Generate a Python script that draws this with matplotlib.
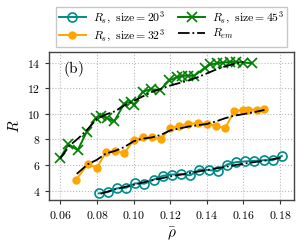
import numpy as np
import matplotlib
matplotlib.use("Agg")
import matplotlib.pyplot as plt
from matplotlib.ticker import FuncFormatter

plt.rcParams["mathtext.fontset"] = "cm"
plt.rcParams["font.family"] = ["DejaVu Serif"]

# R_s, size = 20^3
x20 = [0.081, 0.086, 0.091, 0.096, 0.101, 0.106, 0.111, 0.116, 0.121, 0.126, 0.131,
       0.136, 0.141, 0.146, 0.151, 0.156, 0.161, 0.166, 0.171, 0.176, 0.181]
r20 = [3.78, 3.88, 4.17, 4.22, 4.56, 4.54, 4.86, 5.15, 5.25, 5.28, 5.19,
       5.64, 5.60, 5.52, 6.03, 6.22, 6.28, 6.32, 6.37, 6.37, 6.70]

# R_s, size = 32^3
x32 = [0.0685, 0.075, 0.080, 0.085, 0.090, 0.095, 0.100, 0.105, 0.110, 0.115, 0.120,
       0.125, 0.130, 0.135, 0.140, 0.145, 0.150, 0.155, 0.160, 0.1625, 0.1675, 0.1715]
r32 = [4.82, 6.05, 5.78, 7.00, 7.10, 6.90, 7.94, 8.15, 8.18, 8.03, 8.86,
       9.06, 9.22, 9.25, 9.22, 9.06, 8.86, 10.22, 10.30, 10.33, 10.30, 10.36]

# R_s, size = 45^3
x45 = [0.060, 0.0645, 0.0695, 0.0745, 0.0795, 0.0825, 0.0855, 0.0895, 0.095, 0.0985,
       0.1005, 0.105, 0.1095, 0.1145, 0.1195, 0.1235, 0.1265, 0.1295, 0.133, 0.139,
       0.142, 0.1455, 0.149, 0.1525, 0.156, 0.160, 0.1645]
r45 = [6.55, 7.62, 7.15, 8.60, 9.68, 9.85, 9.65, 9.42, 10.80, 10.95,
       10.72, 11.72, 11.92, 11.85, 12.60, 12.85, 12.95, 12.98, 12.95, 13.60,
       13.85, 13.95, 14.00, 14.05, 14.05, 14.00, 13.95]

# R_em curves
xem20 = [0.082, 0.09, 0.10, 0.11, 0.12, 0.13, 0.14, 0.15, 0.16, 0.17, 0.181]
rem20 = [3.75, 4.10, 4.45, 4.80, 5.10, 5.35, 5.60, 5.85, 6.10, 6.30, 6.58]

xem32 = [0.069, 0.075, 0.08, 0.085, 0.09, 0.095, 0.10, 0.105, 0.11, 0.115, 0.12,
         0.125, 0.13, 0.135, 0.14, 0.145, 0.15, 0.155, 0.16, 0.165, 0.1715]
rem32 = [5.30, 6.05, 6.40, 6.90, 7.10, 7.40, 7.85, 8.05, 8.15, 8.35, 8.70,
         8.85, 9.00, 9.10, 9.20, 9.40, 9.65, 9.85, 9.97, 10.10, 10.30]

xem45 = [0.06, 0.065, 0.07, 0.075, 0.08, 0.085, 0.09, 0.095, 0.10, 0.105, 0.11,
         0.115, 0.12, 0.125, 0.13, 0.135, 0.14, 0.145, 0.15, 0.155, 0.16]
rem45 = [6.50, 7.50, 8.10, 8.80, 9.60, 9.95, 10.20, 10.65, 11.00, 11.35, 11.70,
         11.95, 12.20, 12.40, 12.60, 12.85, 13.15, 13.45, 13.70, 13.90, 14.05]

fig = plt.figure(figsize=(3.04, 2.48), dpi=100)
ax = fig.add_axes([0.162, 0.194, 0.805, 0.595])

ax.plot(x20, r20, color="#008B8B", marker="o", mfc="none", ms=6.5, mew=1.2, lw=1.4,
        label=r"$R_s,\ \mathrm{size}{=}20^3$", zorder=3)
ax.plot(x32, r32, color="orange", marker="o", ms=5, lw=1.4,
        label=r"$R_s,\ \mathrm{size}{=}32^3$", zorder=3)
ax.plot(x45, r45, color="green", marker="x", ms=7, mew=1.2, lw=1.4,
        label=r"$R_s,\ \mathrm{size}{=}45^3$", zorder=3)
ax.plot(xem20, rem20, color="black", ls="-.", lw=1.3, label=r"$R_{em}$", zorder=4)
ax.plot(xem32, rem32, color="black", ls="-.", lw=1.3, zorder=4)
ax.plot(xem45, rem45, color="black", ls="-.", lw=1.3, zorder=4)

ax.set_xlim(0.054, 0.1876)
ax.set_ylim(3.27, 14.8)
ax.set_xticks([0.06, 0.08, 0.10, 0.12, 0.14, 0.16, 0.18])
ax.set_yticks([4, 6, 8, 10, 12, 14])
ax.xaxis.set_major_formatter(FuncFormatter(lambda v, p: f"${v:.2f}$"))
ax.yaxis.set_major_formatter(FuncFormatter(lambda v, p: f"${v:.0f}$"))
ax.tick_params(labelsize=8.5, length=3, color="#333333")
ax.grid(True, ls=":", color="#bbbbbb", lw=0.8)
for s in ax.spines.values():
    s.set_color("#444444")
    s.set_linewidth(1.0)

ax.set_xlabel(r"$\bar{\rho}$", fontsize=11, labelpad=2)
ax.set_ylabel(r"$R$", fontsize=11, labelpad=3)
ax.text(0.055, 0.86, r"$\mathrm{(b)}$", transform=ax.transAxes, fontsize=11)

ax.legend(ncol=2, loc="lower center", bbox_to_anchor=(0.50, 1.03), fontsize=8.5,
          frameon=True, fancybox=False, edgecolor="#bbbbbb", handlelength=2.3,
          columnspacing=1.1, borderpad=0.25, labelspacing=0.12, handletextpad=0.6,
          borderaxespad=0.1)

fig.savefig("out.png", dpi=100)
